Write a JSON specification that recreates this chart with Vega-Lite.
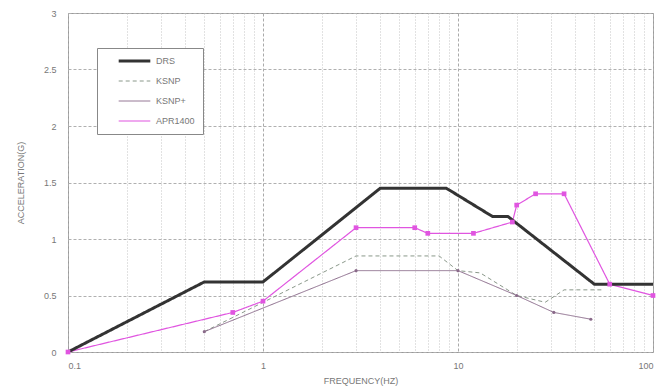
{
  "$schema": "https://vega.github.io/schema/vega-lite/v6.json",
  "width": 585,
  "height": 339,
  "autosize": "none",
  "padding": {"left": 68, "top": 13, "right": 9, "bottom": 40},
  "background": "white",
  "config": {"view": {"stroke": "#999", "strokeWidth": 1}, "font": "Liberation Sans"},
  "data": {"values": [
    {"series": "KSNP", "f": 0.5, "a": 0.18},
    {"series": "KSNP", "f": 3, "a": 0.85},
    {"series": "KSNP", "f": 8, "a": 0.85},
    {"series": "KSNP", "f": 10, "a": 0.72},
    {"series": "KSNP", "f": 13, "a": 0.7},
    {"series": "KSNP", "f": 20, "a": 0.5},
    {"series": "KSNP", "f": 28, "a": 0.44},
    {"series": "KSNP", "f": 35, "a": 0.55},
    {"series": "KSNP", "f": 55, "a": 0.55},
    {"series": "KSNP+", "f": 0.5, "a": 0.18},
    {"series": "KSNP+", "f": 3, "a": 0.72},
    {"series": "KSNP+", "f": 10, "a": 0.72},
    {"series": "KSNP+", "f": 20, "a": 0.5},
    {"series": "KSNP+", "f": 31, "a": 0.35},
    {"series": "KSNP+", "f": 48, "a": 0.29},
    {"series": "APR1400", "f": 0.1, "a": 0},
    {"series": "APR1400", "f": 0.7, "a": 0.35},
    {"series": "APR1400", "f": 1, "a": 0.45},
    {"series": "APR1400", "f": 3, "a": 1.1},
    {"series": "APR1400", "f": 6, "a": 1.1},
    {"series": "APR1400", "f": 7, "a": 1.05},
    {"series": "APR1400", "f": 12, "a": 1.05},
    {"series": "APR1400", "f": 19, "a": 1.15},
    {"series": "APR1400", "f": 20, "a": 1.3},
    {"series": "APR1400", "f": 25, "a": 1.4},
    {"series": "APR1400", "f": 35, "a": 1.4},
    {"series": "APR1400", "f": 60, "a": 0.6},
    {"series": "APR1400", "f": 100, "a": 0.5},
    {"series": "DRS", "f": 0.1, "a": 0},
    {"series": "DRS", "f": 0.5, "a": 0.62},
    {"series": "DRS", "f": 1, "a": 0.62},
    {"series": "DRS", "f": 4, "a": 1.45},
    {"series": "DRS", "f": 8.7, "a": 1.45},
    {"series": "DRS", "f": 15, "a": 1.2},
    {"series": "DRS", "f": 18, "a": 1.2},
    {"series": "DRS", "f": 50, "a": 0.6},
    {"series": "DRS", "f": 100, "a": 0.6}
  ]},
  "encoding": {
    "x": {
      "field": "f", "type": "quantitative",
      "scale": {"type": "log", "domain": [0.1, 100], "nice": false},
      "axis": {
        "values": [0.1,0.2,0.3,0.4,0.5,0.6,0.7,0.8,0.9,1,2,3,4,5,6,7,8,9,10,20,30,40,50,60,70,80,90,100],
        "labelExpr": "datum.value == 0.1 ? '0.1' : datum.value == 1 ? '1' : datum.value == 10 ? '10' : datum.value == 100 ? '100' : ''",
        "labelOverlap": false,
        "grid": true,
        "gridColor": {"condition": {"test": "indexof([0.1,1,10,100], datum.value) >= 0", "value": "#aaaaaa"}, "value": "#c4c4c4"},
        "gridDash": {"condition": {"test": "indexof([0.1,1,10,100], datum.value) >= 0", "value": [3, 2]}, "value": [1, 2]},
        "ticks": false,
        "domain": false,
        "labelFontSize": 9,
        "labelColor": "#777777",
        "labelPadding": 9,
        "title": "FREQUENCY(HZ)",
        "titleFontSize": 9,
        "titleFontWeight": "normal",
        "titleColor": "#777777",
        "titlePadding": 6
      }
    },
    "y": {
      "field": "a", "type": "quantitative",
      "scale": {"domain": [0, 3], "nice": false},
      "axis": {
        "values": [0, 0.5, 1, 1.5, 2, 2.5, 3],
        "format": "~g",
        "grid": true,
        "gridColor": "#b0b0b0",
        "gridDash": [3, 2],
        "ticks": false,
        "domain": false,
        "labelFontSize": 9,
        "labelColor": "#777777",
        "labelPadding": 12,
        "title": "ACCELERATION(G)",
        "titleFontSize": 9,
        "titleFontWeight": "normal",
        "titleColor": "#777777",
        "titlePadding": 18
      }
    }
  },
  "layer": [
    {
      "mark": {"type": "line", "clip": true},
      "encoding": {
        "color": {
          "field": "series", "type": "nominal",
          "scale": {"domain": ["DRS", "KSNP", "KSNP+", "APR1400"], "range": ["#333333", "#8a988a", "#8a6a8a", "#e055e0"]},
          "legend": {
            "orient": "none", "legendX": 29, "legendY": 35,
            "title": null,
            "symbolType": "stroke",
            "symbolSize": 1000,
            "symbolOffset": 12,
            "clipHeight": 10,
            "padding": 8,
            "fillColor": "white",
            "strokeColor": "#888888",
            "labelFontSize": 9,
            "labelColor": "#777777",
            "labelOffset": 4,
            "rowPadding": 10
          }
        },
        "strokeDash": {
          "field": "series", "type": "nominal",
          "scale": {"domain": ["DRS", "KSNP", "KSNP+", "APR1400"], "range": [[1, 0], [4, 3], [1, 0], [1, 0]]},
          "legend": {"title": null}
        },
        "strokeWidth": {
          "field": "series", "type": "nominal",
          "scale": {"type": "ordinal", "domain": ["DRS", "KSNP", "KSNP+", "APR1400"], "range": [3, 1, 1, 1.2]},
          "legend": {"title": null}
        }
      }
    },
    {
      "transform": [{"filter": "datum.series === 'KSNP+' || datum.series === 'APR1400'"}],
      "mark": {"type": "point", "filled": true, "opacity": 1},
      "encoding": {
        "color": {"field": "series", "type": "nominal", "scale": {"domain": ["DRS", "KSNP", "KSNP+", "APR1400"], "range": ["#333333", "#8a988a", "#7a5a7a", "#d040d0"]}, "legend": null},
        "shape": {"field": "series", "type": "nominal", "scale": {"domain": ["KSNP+", "APR1400"], "range": ["circle", "square"]}, "legend": null},
        "size": {"field": "series", "type": "nominal", "scale": {"type": "ordinal", "domain": ["KSNP+", "APR1400"], "range": [10, 22]}, "legend": null}
      }
    }
  ]
}
